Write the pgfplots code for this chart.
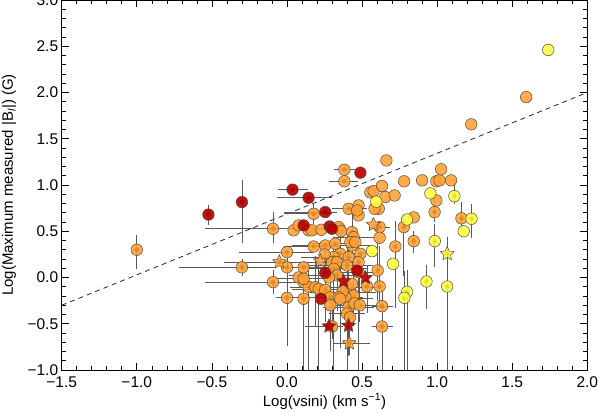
\documentclass[border=0pt]{standalone}
\usepackage{fontspec}
\setmainfont{Liberation Sans}
\usepackage{pgfplots}
\usepackage{pgfplotstable}
\pgfplotsset{compat=1.18}
\definecolor{corange}{HTML}{FFA033}
\definecolor{cred}{HTML}{B80000}
\definecolor{cyellow}{HTML}{FFFF40}
\definecolor{cedge}{HTML}{5A4A3A}
\definecolor{cerr}{HTML}{5A5A5A}

\pgfdeclareplotmark{fstar}{%
  \pgfpathmoveto{\pgfpointpolar{90}{\pgfplotmarksize}}%
  \pgfpathlineto{\pgfpointpolar{126}{0.48\pgfplotmarksize}}%
  \pgfpathlineto{\pgfpointpolar{162}{\pgfplotmarksize}}%
  \pgfpathlineto{\pgfpointpolar{198}{0.48\pgfplotmarksize}}%
  \pgfpathlineto{\pgfpointpolar{234}{\pgfplotmarksize}}%
  \pgfpathlineto{\pgfpointpolar{270}{0.48\pgfplotmarksize}}%
  \pgfpathlineto{\pgfpointpolar{306}{\pgfplotmarksize}}%
  \pgfpathlineto{\pgfpointpolar{342}{0.48\pgfplotmarksize}}%
  \pgfpathlineto{\pgfpointpolar{18}{\pgfplotmarksize}}%
  \pgfpathlineto{\pgfpointpolar{54}{0.48\pgfplotmarksize}}%
  \pgfpathclose
  \pgfusepathqfillstroke
}

\pgfplotstableread{
x y
-1.000 0.300
-0.300 0.110
-0.093 0.527
-0.093 -0.050
0.000 0.274
0.000 0.110
0.000 -0.220
0.044 0.510
0.078 0.563
0.078 0.000
0.111 -0.050
0.144 -0.100
0.111 -0.230
0.111 0.110
0.111 -0.014
0.144 0.510
0.167 0.510
0.229 0.516
0.350 0.527
0.178 0.689
0.178 0.335
0.255 0.346
0.322 0.365
0.433 0.346
0.344 0.545
0.433 0.490
0.444 0.436
0.422 0.382
0.455 0.382
0.360 0.500
0.411 0.743
0.477 0.779
0.477 0.671
0.467 0.725
0.611 0.743
0.583 0.743
0.617 0.545
0.617 0.430
0.722 0.335
0.489 0.256
0.355 0.256
0.311 0.220
0.300 0.166
0.333 0.166
0.411 0.220
0.477 0.166
0.400 0.130
0.250 0.250
0.311 0.094
0.333 0.022
0.280 0.000
0.477 0.057
0.604 0.076
0.189 -0.105
0.211 -0.122
0.255 -0.133
0.400 -0.105
0.422 -0.159
0.444 -0.195
0.389 -0.213
0.433 -0.068
0.370 -0.150
0.289 -0.213
0.344 -0.213
0.355 -0.230
0.533 -0.097
0.617 -0.097
0.410 -0.320
0.450 -0.280
0.400 -0.390
0.420 -0.430
0.289 -0.300
0.300 -0.530
0.485 -0.300
0.633 -0.310
0.633 -0.530
0.382 1.166
0.382 1.040
0.555 0.920
0.577 0.934
0.633 0.990
0.662 1.266
0.655 0.870
0.717 0.887
0.780 1.040
0.900 1.050
0.995 1.040
1.015 1.050
1.027 1.170
1.093 1.050
0.995 0.833
0.983 0.707
0.844 0.650
0.778 0.545
0.844 0.393
1.162 0.640
1.227 1.656
1.593 1.950
}\orangec

\pgfplotstableread{
x y
-0.523 0.680
-0.300 0.815
0.037 0.950
0.144 0.862
0.255 0.707
0.489 1.133
0.111 0.563
0.284 0.552
0.300 0.527
0.255 0.050
0.467 0.075
0.227 -0.230
}\redc

\pgfplotstableread{
x y
1.740 2.460
0.955 0.910
1.115 0.880
0.595 0.820
0.800 0.627
1.229 0.635
1.177 0.500
0.984 0.393
0.567 0.285
0.707 0.148
0.929 -0.043
1.067 -0.097
0.800 -0.155
0.782 -0.220
}\yellowc

\pgfplotstableread{
x y
-0.050 0.166
0.222 0.177
0.575 0.570
0.415 -0.710
}\orangest

\pgfplotstableread{
x y
0.377 -0.040
0.522 -0.003
0.280 -0.527
0.410 -0.520
}\redst

\pgfplotstableread{
x y
1.067 0.256
}\yellowst

\pgfplotstableread{
x y em ep
-1.000 0.300 0.18 0.13
-0.523 0.680 0.08 0.07
-0.300 0.815 0.41 0.21
-0.300 0.110 0.06 0.06
-0.093 0.527 0.12 0.15
-0.093 -0.050 0.10 0.10
0.000 -0.220 0.49 0.49
0.000 0.110 0.07 0.07
0.111 -0.230 0.90 0.20
0.178 0.689 0.08 0.08
0.211 -0.122 0.95 0.30
0.400 -0.105 0.95 0.35
0.633 -0.530 0.60 0.10
0.633 -0.310 0.15 0.15
0.617 -0.097 0.20 0.40
0.604 0.076 0.30 0.30
0.289 -0.213 0.55 0.25
0.355 -0.230 0.50 0.30
0.410 -0.320 0.50 0.30
0.444 -0.195 0.30 0.25
0.255 0.050 0.50 0.30
0.333 0.022 0.35 0.25
0.189 -0.105 0.40 0.30
0.533 -0.097 0.25 0.20
0.485 -0.300 0.15 0.30
0.300 -0.530 0.10 0.20
0.415 -0.710 0.10 0.25
0.477 0.166 0.30 0.20
0.411 0.220 0.30 0.20
0.722 0.335 0.635 0.245
0.844 0.393 0.10 0.08
0.984 0.393 0.245 0.157
1.067 0.256 0.27 0.15
1.067 -0.097 1.00 0.08
0.929 -0.043 0.26 0.15
0.800 -0.155 0.90 0.20
0.782 -0.220 0.90 0.26
0.778 0.545 0.50 0.10
0.983 0.707 0.08 0.20
1.162 0.640 0.10 0.14
1.229 0.635 0.18 0.125
1.115 0.880 0.05 0.15
0.433 0.490 0.20 0.20
0.400 0.130 0.80 0.30
0.144 -0.100 0.90 0.20
0.355 0.256 0.70 0.20
0.311 0.094 1.20 0.20
0.477 0.057 1.15 0.25
}\yerr

\pgfplotstableread{
x y em ep
-0.300 0.110 0.40 0.20
-0.093 0.527 0.43 0.35
-0.093 -0.050 0.43 0.20
0.000 0.274 0.30 0.16
-0.050 0.166 0.35 0.10
0.000 -0.220 0.05 0.10
0.037 0.950 0.08 0.08
0.144 0.862 0.19 0.134
0.255 0.707 0.255 0.06
0.178 0.689 0.18 0.10
0.382 1.166 0.05 0.05
0.382 1.040 0.08 0.07
0.411 0.743 0.09 0.10
0.178 0.335 0.18 0.15
0.255 0.346 0.20 0.15
0.322 0.365 0.15 0.12
0.433 0.346 0.10 0.10
0.311 0.220 0.20 0.15
0.333 0.166 0.25 0.15
0.400 0.130 0.30 0.15
0.311 0.094 0.20 0.20
0.333 0.022 0.30 0.15
0.477 0.057 0.20 0.10
0.189 -0.105 0.15 0.20
0.255 -0.133 0.20 0.15
0.400 -0.105 0.30 0.20
0.422 -0.159 0.25 0.15
0.289 -0.213 0.20 0.20
0.355 -0.230 0.10 0.20
0.410 -0.320 0.15 0.15
0.400 -0.390 0.10 0.10
0.300 -0.530 0.16 0.05
0.415 -0.710 0.09 0.12
0.485 -0.300 0.15 0.10
0.633 -0.310 0.05 0.05
0.633 -0.530 0.05 0.05
0.617 0.545 0.05 0.05
0.111 -0.014 0.15 0.25
0.111 0.110 0.10 0.20
0.489 0.256 0.10 0.10
0.444 0.436 0.12 0.12
}\xerr

\begin{document}
\begin{tikzpicture}
\begin{axis}[
  scale only axis, width=525.6pt, height=370pt,
  xmin=-1.5, xmax=2.0, ymin=-1.0, ymax=3.0,
  xtick={-1.5,-1.0,-0.5,0.0,0.5,1.0,1.5,2.0},
  xticklabels={−1.5,−1.0,−0.5,0.0,0.5,1.0,1.5,2.0},
  ytick={-1.0,-0.5,0.0,0.5,1.0,1.5,2.0,2.5,3.0},
  yticklabels={−1.0,−0.5,0.0,0.5,1.0,1.5,2.0,2.5,3.0},
  minor x tick num=4, minor y tick num=4,
  tick align=inside,
  xtick pos=both, ytick pos=both,
  xticklabel pos=lower, yticklabel pos=left,
  major tick length=7pt, minor tick length=4pt,
  tick style={black, line width=0.6pt},
  axis line style={line width=0.8pt},
  tick label style={font=\fontsize{15.5}{18}\selectfont},
  xticklabel style={yshift=-3pt},
  label style={font=\fontsize{15}{18}\selectfont},
  xlabel={Log(vsini) (km s\textsuperscript{−1})},
  ylabel={Log(Maximum measured |B\textsubscript{\textit{l}}|) (G)},
  x label style={at={(axis description cs:0.5,-0.085)}, anchor=center},
  y label style={at={(axis description cs:-0.1003,0.5)}, anchor=center},
]
\addplot[black!85, line width=0.8pt, dash pattern=on 5pt off 4pt] coordinates {(-1.5,-0.3) (2.0,2.0)};

\addplot[only marks, mark=none,
  error bars/.cd, y dir=both, y explicit,
  error bar style={cerr, line width=0.7pt},
  error mark options={cerr, line width=0.7pt, mark size=3pt}]
  table[x=x, y=y, y error plus=ep, y error minus=em]{\yerr};
\addplot[only marks, mark=none,
  error bars/.cd, x dir=both, x explicit,
  error bar style={cerr, line width=0.7pt},
  error mark options={cerr, line width=0.7pt, mark size=3pt}]
  table[x=x, y=y, x error plus=ep, x error minus=em]{\xerr};

\addplot[only marks, mark=*, mark size=5.8pt,
  mark options={fill=corange, draw=cedge, line width=0.5pt, fill opacity=0.88}]
  table[x=x, y=y]{\orangec};
\addplot[only marks, mark=*, mark size=5.8pt,
  mark options={fill=cyellow, draw=cedge, line width=0.5pt, fill opacity=0.88}]
  table[x=x, y=y]{\yellowc};
\addplot[only marks, mark=*, mark size=5.8pt,
  mark options={fill=cred, draw=cedge, line width=0.5pt, fill opacity=0.92}]
  table[x=x, y=y]{\redc};
\addplot[only marks, mark=fstar, mark size=7.3pt,
  mark options={fill=corange, draw=cedge, line width=0.5pt, fill opacity=0.88}]
  table[x=x, y=y]{\orangest};
\addplot[only marks, mark=fstar, mark size=7.3pt,
  mark options={fill=cred, draw=cedge, line width=0.5pt, fill opacity=0.92}]
  table[x=x, y=y]{\redst};
\addplot[only marks, mark=fstar, mark size=7.3pt,
  mark options={fill=cyellow, draw=cedge, line width=0.5pt, fill opacity=0.88}]
  table[x=x, y=y]{\yellowst};
\end{axis}
\pgfresetboundingbox
\path ([shift={(-61.7pt,-43pt)}]current axis.south west) rectangle ([shift={(10.7pt,0pt)}]current axis.north east);
\end{tikzpicture}
\end{document}
